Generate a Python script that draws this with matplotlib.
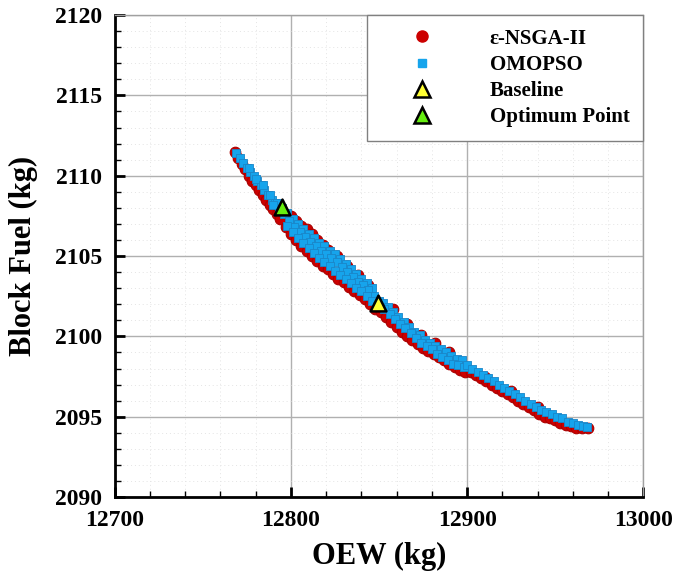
import matplotlib
matplotlib.use("Agg")
import matplotlib.pyplot as plt
from matplotlib.ticker import MultipleLocator
from matplotlib.lines import Line2D

# epsilon-NSGA-II front: (OEW kg, block fuel kg)
nsga_points = [
    (12768.3, 2111.5), (12770, 2111.1), (12772, 2110.7), (12774, 2110.4), (12776, 2110.0),
    (12778, 2109.7), (12780, 2109.4), (12782, 2109.1), (12784, 2108.8), (12786, 2108.5),
    (12788, 2108.2), (12790, 2107.9), (12792, 2107.6), (12794, 2107.3),
    (12797, 2106.8), (12800, 2106.4), (12803, 2106.0), (12806, 2105.6), (12809, 2105.3),
    (12812, 2105.0), (12815, 2104.7), (12818, 2104.4), (12821, 2104.2), (12824, 2103.9),
    (12827, 2103.6), (12830, 2103.4), (12833, 2103.1), (12836, 2102.8), (12839, 2102.6),
    (12842, 2102.3), (12845, 2102.0), (12848, 2101.7),
    (12800, 2107.5), (12803, 2107.2), (12806, 2106.9), (12809, 2106.7), (12812, 2106.4),
    (12815, 2106.0), (12818, 2105.7), (12821, 2105.4), (12826, 2105.0), (12832, 2104.4),
    (12838, 2103.8), (12844, 2103.2),
    (12851, 2101.5), (12854, 2101.2), (12857, 2100.9), (12860, 2100.6), (12863, 2100.3),
    (12866, 2100.0), (12869, 2099.8), (12872, 2099.5), (12875, 2099.3), (12878, 2099.1),
    (12881, 2098.9), (12884, 2098.7), (12887, 2098.5), (12890, 2098.3), (12893, 2098.1),
    (12896, 2097.9), (12899, 2097.8),
    (12858, 2101.7), (12866, 2100.8), (12874, 2100.1), (12882, 2099.6), (12890, 2099.0),
    (12902, 2097.8), (12905, 2097.6), (12908, 2097.4), (12911, 2097.2), (12914, 2097.0),
    (12917, 2096.8), (12920, 2096.6), (12923, 2096.4), (12926, 2096.2), (12929, 2096.0),
    (12932, 2095.8), (12935, 2095.6), (12938, 2095.4), (12941, 2095.2), (12944, 2095.0),
    (12947, 2094.9), (12950, 2094.8), (12953, 2094.6), (12956, 2094.5), (12959, 2094.4),
    (12962, 2094.3), (12965, 2094.3), (12968.5, 2094.3),
    (12910, 2097.5), (12925, 2096.6), (12940, 2095.6),
]

# OMOPSO front: (OEW kg, block fuel kg)
omopso_points = [
    (12769, 2111.4), (12771, 2111.1), (12773, 2110.8), (12775, 2110.5), (12777, 2110.2),
    (12779, 2110.0), (12781, 2109.7), (12783, 2109.4), (12785, 2109.1), (12787, 2108.8),
    (12789, 2108.5), (12791, 2108.3), (12793, 2108.0),
    (12776, 2110.5), (12780, 2109.8), (12784, 2109.4), (12788, 2108.8), (12792, 2108.3),
    (12790, 2108.2),
    (12795, 2108.0), (12798, 2107.7), (12801, 2107.3), (12804, 2107.0), (12807, 2106.7),
    (12810, 2106.4), (12813, 2106.1), (12816, 2105.8), (12819, 2105.6), (12822, 2105.3),
    (12825, 2105.1), (12828, 2104.8), (12831, 2104.5), (12834, 2104.2), (12837, 2103.9),
    (12840, 2103.6), (12843, 2103.3), (12846, 2103.0),
    (12796, 2107.6), (12799, 2107.2), (12802, 2106.8), (12805, 2106.5), (12808, 2106.2),
    (12811, 2105.9), (12814, 2105.6), (12817, 2105.3), (12820, 2105.1), (12823, 2104.9),
    (12826, 2104.6), (12829, 2104.3), (12832, 2104.0), (12835, 2103.7), (12838, 2103.4),
    (12841, 2103.2), (12844, 2102.9), (12847, 2102.5), (12850, 2102.2),
    (12798, 2106.9), (12801, 2106.5), (12804, 2106.1), (12807, 2105.8), (12810, 2105.5),
    (12813, 2105.2), (12816, 2104.9), (12819, 2104.6), (12822, 2104.4), (12825, 2104.1),
    (12828, 2103.8), (12831, 2103.6), (12834, 2103.3), (12837, 2103.0), (12840, 2102.8),
    (12843, 2102.5), (12846, 2102.2), (12849, 2101.9),
    (12852, 2102.1), (12855, 2101.8), (12858, 2101.5), (12861, 2101.2), (12864, 2100.9),
    (12867, 2100.6), (12870, 2100.3), (12873, 2100.1), (12876, 2099.8), (12879, 2099.6),
    (12882, 2099.4), (12885, 2099.2), (12888, 2099.0), (12891, 2098.8), (12894, 2098.6),
    (12897, 2098.5),
    (12853, 2101.7), (12856, 2101.4), (12859, 2101.1), (12862, 2100.8), (12865, 2100.5),
    (12868, 2100.2), (12871, 2099.9), (12874, 2099.6), (12877, 2099.4), (12880, 2099.2),
    (12883, 2098.9), (12886, 2098.7), (12889, 2098.5), (12892, 2098.3), (12895, 2098.2),
    (12898, 2098.1),
    (12900, 2098.2), (12903, 2098.0), (12906, 2097.8), (12909, 2097.6), (12912, 2097.4),
    (12915, 2097.2), (12918, 2097.0), (12921, 2096.8), (12924, 2096.6), (12927, 2096.4),
    (12930, 2096.2), (12933, 2096.0), (12936, 2095.8), (12939, 2095.6), (12942, 2095.4),
    (12945, 2095.3), (12948, 2095.2), (12951, 2095.0), (12954, 2094.9), (12957, 2094.7),
    (12960, 2094.6), (12963, 2094.5), (12966, 2094.4), (12968, 2094.35),
]

baseline_x = [12849.4]
baseline_y = [2102.1]
optimum_x = [12794.9]
optimum_y = [2108.05]

legend_labels = ["\u03b5-NSGA-II", "OMOPSO", "Baseline", "Optimum Point"]
x_ticks = [12700, 12800, 12900, 13000]
y_ticks = [2090, 2095, 2100, 2105, 2110, 2115, 2120]

nsga_x = [p[0] for p in nsga_points]
nsga_y = [p[1] for p in nsga_points]
omopso_x = [p[0] for p in omopso_points]
omopso_y = [p[1] for p in omopso_points]

serif = ["Liberation Serif", "DejaVu Serif"]
plt.rcParams["font.family"] = serif
plt.rcParams["font.weight"] = "bold"

fig = plt.figure(figsize=(6.75, 5.78), dpi=100)
ax = fig.add_axes([0.170, 0.140, 0.783, 0.834])

red = "#cc0000"
blue = "#16a4ec"
ax.scatter(nsga_x, nsga_y, s=58, marker="o", facecolor=red, edgecolor="#aa0000",
           linewidths=0.8, zorder=3)
ax.scatter(omopso_x, omopso_y, s=40, marker="s", facecolor=blue, edgecolor="#1a86c8",
           linewidths=0.6, zorder=4)
ax.scatter(baseline_x, baseline_y, s=130, marker="^", facecolor="#ffff33",
           edgecolor="black", linewidths=1.8, zorder=5)
ax.scatter(optimum_x, optimum_y, s=130, marker="^", facecolor="#66ee11",
           edgecolor="black", linewidths=1.8, zorder=5)

ax.set_xlim(12700, 13000)
ax.set_ylim(2090, 2120)
ax.set_xticks(x_ticks)
ax.set_yticks(y_ticks)
ax.xaxis.set_minor_locator(MultipleLocator(20))
ax.yaxis.set_minor_locator(MultipleLocator(1))
ax.grid(True, which="major", color="#b0b0b0", linewidth=1.0, zorder=0)
ax.grid(True, which="minor", color="#e4e4e4", linewidth=0.7, linestyle=(0, (1, 3)), zorder=0)
ax.set_axisbelow(True)

for side in ["left", "bottom"]:
    ax.spines[side].set_linewidth(2.0)
    ax.spines[side].set_color("black")
for side in ["top", "right"]:
    ax.spines[side].set_linewidth(1.0)
    ax.spines[side].set_color("#a0a0a0")

ax.tick_params(which="major", direction="in", length=7, width=2, labelsize=17, pad=9)
ax.tick_params(which="minor", direction="in", length=4, width=1)
ax.tick_params(top=False, right=False, which="both")
for lab in ax.get_xticklabels() + ax.get_yticklabels():
    lab.set_fontweight("bold")

ax.set_xlabel("OEW (kg)", fontsize=22, fontweight="bold", labelpad=8)
ax.set_ylabel("Block Fuel (kg)", fontsize=22, fontweight="bold", labelpad=12)

handles = [
    Line2D([], [], linestyle="none", marker="o", markersize=8, markerfacecolor=red,
           markeredgecolor=red),
    Line2D([], [], linestyle="none", marker="s", markersize=5.5, markerfacecolor=blue,
           markeredgecolor=blue),
    Line2D([], [], linestyle="none", marker="^", markersize=11, markerfacecolor="#ffff33",
           markeredgecolor="black", markeredgewidth=1.8),
    Line2D([], [], linestyle="none", marker="^", markersize=11, markerfacecolor="#66ee11",
           markeredgecolor="black", markeredgewidth=1.8),
]
leg = ax.legend(handles, legend_labels, loc="upper right", fancybox=False,
                framealpha=1, edgecolor="#808080", borderaxespad=0.0,
                prop={"family": serif, "weight": "bold", "size": 15},
                handlelength=4.0, handletextpad=1.25, borderpad=0.65, labelspacing=0.3)
leg.get_frame().set_linewidth(1.0)
leg.set_zorder(10)

fig.savefig("out.png", dpi=100)
